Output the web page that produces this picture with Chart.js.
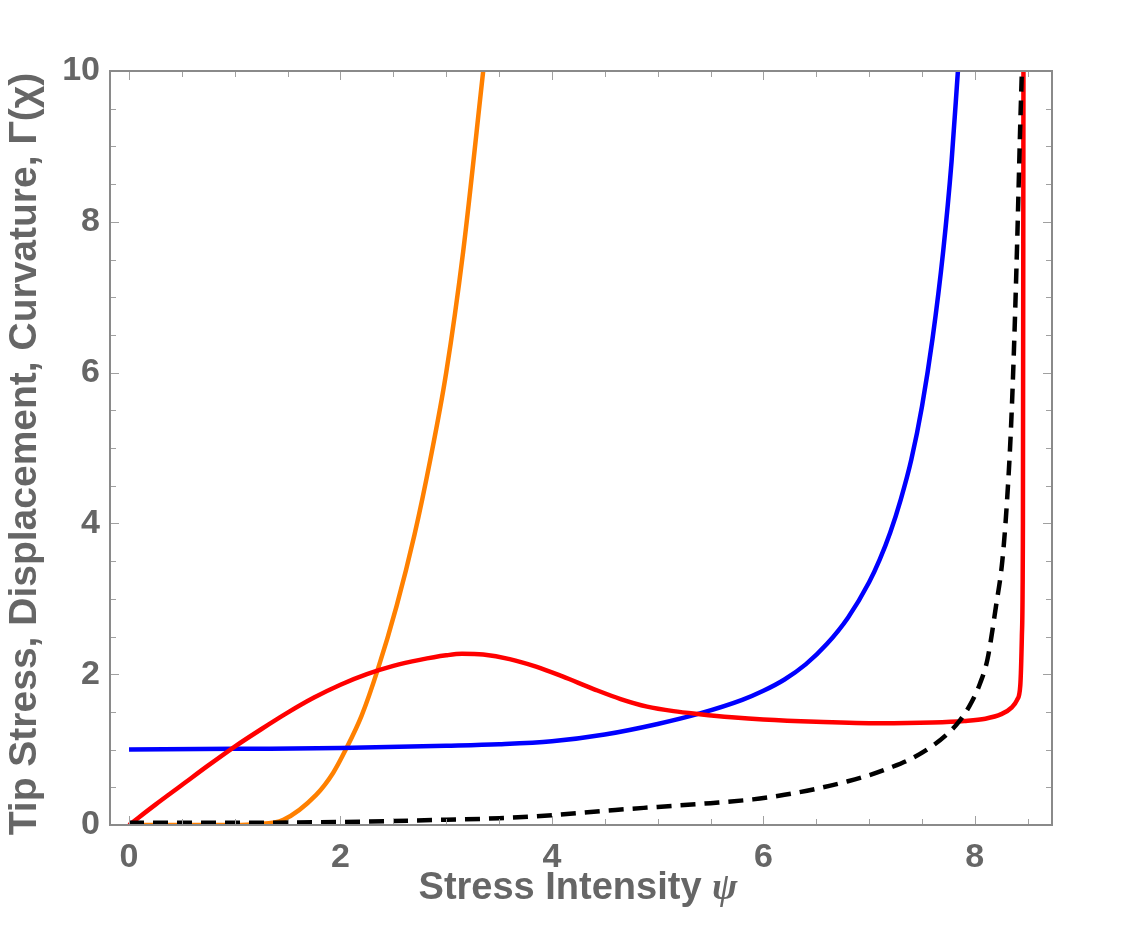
<!DOCTYPE html>
<html>
<head>
<meta charset="utf-8">
<script src="https://cdn.jsdelivr.net/npm/chart.js@4.4.1/dist/chart.umd.min.js"></script>
<style>
  html, body { margin: 0; padding: 0; background: #fff; }
  #wrap { width: 1125px; height: 940px; }
</style>
</head>
<body>
<div id="wrap"><canvas id="curveChart" width="1125" height="940"></canvas></div>
<script>
// ===== Dữ liệu =====
const xTicks = [0, 2, 4, 6, 8];
const yTicks = [0, 2, 4, 6, 8, 10];

// Tip stress (xanh)
const blueX = [0, 1, 2, 3, 3.5, 4, 4.5, 5, 5.4, 5.8, 6.0, 6.2, 6.4, 6.6, 6.8, 7.0, 7.1, 7.2, 7.3, 7.4, 7.5, 7.6, 7.7, 7.78, 7.84];
const blueY = [1.0, 1.01, 1.02, 1.05, 1.07, 1.11, 1.2, 1.34, 1.48, 1.66, 1.78, 1.93, 2.13, 2.4, 2.75, 3.22, 3.52, 3.88, 4.32, 4.85, 5.55, 6.45, 7.6, 8.8, 10];

// Curvature (đỏ)
const redX = [0, 0.25, 0.5, 0.75, 1.0, 1.25, 1.5, 1.75, 2.0, 2.25, 2.5, 2.75, 3.0, 3.15, 3.35, 3.6, 3.85, 4.1, 4.4, 4.65, 4.9, 5.15, 5.4, 5.7, 6.0, 6.5, 7.1, 7.6, 7.9, 8.1, 8.25, 8.35, 8.4, 8.43, 8.445, 8.455, 8.46];
const redY = [0, 0.27, 0.53, 0.79, 1.04, 1.27, 1.49, 1.69, 1.86, 2.0, 2.11, 2.19, 2.25, 2.27, 2.26, 2.2, 2.1, 1.97, 1.8, 1.67, 1.57, 1.51, 1.47, 1.43, 1.4, 1.37, 1.35, 1.36, 1.38, 1.41, 1.47, 1.56, 1.66, 1.85, 2.5, 4, 10];

// Displacement (cam)
const orangeX = [0, 0.5, 1.0, 1.2, 1.46, 1.77, 1.93, 2.05, 2.2, 2.35, 2.53, 2.7, 2.85, 3.0, 3.16, 3.35];
const orangeY = [0, 0, 0, 0.01, 0.07, 0.4, 0.69, 1.0, 1.45, 2.05, 2.9, 3.85, 4.85, 6.0, 7.6, 10];

// Γ(χ) (đen, nét đứt)
const blackX = [0, 1, 2, 3, 3.5, 4, 4.6, 5.0, 5.5, 5.9, 6.2, 6.5, 6.8, 7.0, 7.2, 7.4, 7.6, 7.75, 7.85, 7.95, 8.05, 8.12, 8.2, 8.26, 8.3, 8.34, 8.37, 8.4, 8.43, 8.445];
const blackY = [0.03, 0.03, 0.04, 0.07, 0.09, 0.13, 0.2, 0.24, 0.29, 0.34, 0.4, 0.48, 0.58, 0.66, 0.76, 0.88, 1.05, 1.22, 1.37, 1.58, 1.88, 2.2, 2.9, 3.5, 4.2, 5.2, 6.3, 7.7, 9.3, 10];

const pts = (xs, ys) => xs.map((x, i) => ({ x: x, y: ys[i] }));

const textGray = "#666666";
const frameGray = "#8a8a8a";
const fontFam = "'Liberation Sans', Arial, sans-serif";

// khung + vạch chia hướng vào trong + tiêu đề trục
const framePlugin = {
  id: "frame",
  afterDraw(chart) {
    const { ctx, chartArea: a, scales } = chart;
    const sx = scales.x, sy = scales.y;
    ctx.save();
    // vạch chia mỗi 0.5
    ctx.strokeStyle = "#a0a0a0";
    ctx.lineWidth = 1;
    ctx.beginPath();
    for (let v = 0; v <= 8.5; v += 0.5) {
      const px = Math.round(sx.getPixelForValue(v)) + 0.5;
      const len = v % 2 === 0 ? 9 : 6;
      ctx.moveTo(px, a.bottom); ctx.lineTo(px, a.bottom - len);
      ctx.moveTo(px, a.top); ctx.lineTo(px, a.top + len);
    }
    for (let v = 0; v <= 10; v += 0.5) {
      const py = Math.round(sy.getPixelForValue(v)) + 0.5;
      const len = v % 2 === 0 ? 9 : 6;
      ctx.moveTo(a.left, py); ctx.lineTo(a.left + len, py);
      ctx.moveTo(a.right, py); ctx.lineTo(a.right - len, py);
    }
    ctx.stroke();
    // khung
    ctx.strokeStyle = frameGray;
    ctx.lineWidth = 2;
    ctx.strokeRect(a.left, a.top, a.right - a.left, a.bottom - a.top);

    // tiêu đề trục x
    ctx.fillStyle = textGray;
    ctx.textBaseline = "middle";
    const t1 = "Stress Intensity ";
    const t2 = "ψ";
    const f1 = "bold 38px " + fontFam;
    const f2 = "italic bold 38px 'Liberation Serif', 'DejaVu Serif', serif";
    ctx.font = f1; const w1 = ctx.measureText(t1).width;
    ctx.font = f2; const w2 = ctx.measureText(t2).width;
    const cx = 578, cy = 889;
    ctx.font = f1; ctx.textAlign = "left";
    ctx.fillText(t1, cx - (w1 + w2) / 2, cy);
    ctx.font = f2;
    ctx.fillText(t2, cx - (w1 + w2) / 2 + w1, cy);

    // tiêu đề trục y
    ctx.translate(25, 454);
    ctx.rotate(-Math.PI / 2);
    ctx.textAlign = "center";
    ctx.font = "bold 39px " + fontFam;
    ctx.fillText("Tip Stress, Displacement, Curvature, Γ(χ)", 0, 0);
    ctx.restore();
  },
};

const ctxCurve = document.getElementById("curveChart");
new Chart(ctxCurve, {
  type: "line",
  data: {
    datasets: [
      {
        label: "Γ(χ)",
        data: pts(blackX, blackY),
        borderColor: "#000000",
        borderWidth: 4.5,
        borderDash: [15, 9],
      },
      {
        label: "Curvature",
        data: pts(redX, redY),
        borderColor: "#ff0000",
        borderWidth: 4.5,
      },
      {
        label: "Tip Stress",
        data: pts(blueX, blueY),
        borderColor: "#0000ff",
        borderWidth: 4.5,
      },
      {
        label: "Displacement",
        data: pts(orangeX, orangeY),
        borderColor: "#ff8000",
        borderWidth: 4.5,
      },
    ],
  },
  options: {
    responsive: false,
    animation: false,
    events: [],
    layout: { padding: { top: 71, right: 73, left: 0, bottom: 0 } },
    elements: {
      point: { radius: 0 },
      line: { cubicInterpolationMode: "monotone", fill: false },
    },
    plugins: { legend: { display: false }, tooltip: { enabled: false } },
    scales: {
      x: {
        type: "linear",
        min: -0.18,
        max: 8.73,
        afterBuildTicks: (s) => { s.ticks = xTicks.map((v) => ({ value: v })); },
        afterFit: (s) => { s.height = 115; },
        grid: { display: false, drawTicks: false },
        border: { display: false },
        ticks: {
          padding: 12,
          color: textGray,
          font: { family: fontFam, size: 34, weight: "bold" },
        },
      },
      y: {
        type: "linear",
        min: 0,
        max: 10,
        afterBuildTicks: (s) => { s.ticks = yTicks.map((v) => ({ value: v })); },
        afterFit: (s) => { s.width = 110; },
        grid: { display: false, drawTicks: false },
        border: { display: false },
        ticks: {
          padding: 10,
          color: textGray,
          font: { family: fontFam, size: 34, weight: "bold" },
        },
      },
    },
  },
  plugins: [framePlugin],
});
</script>
</body>
</html>
